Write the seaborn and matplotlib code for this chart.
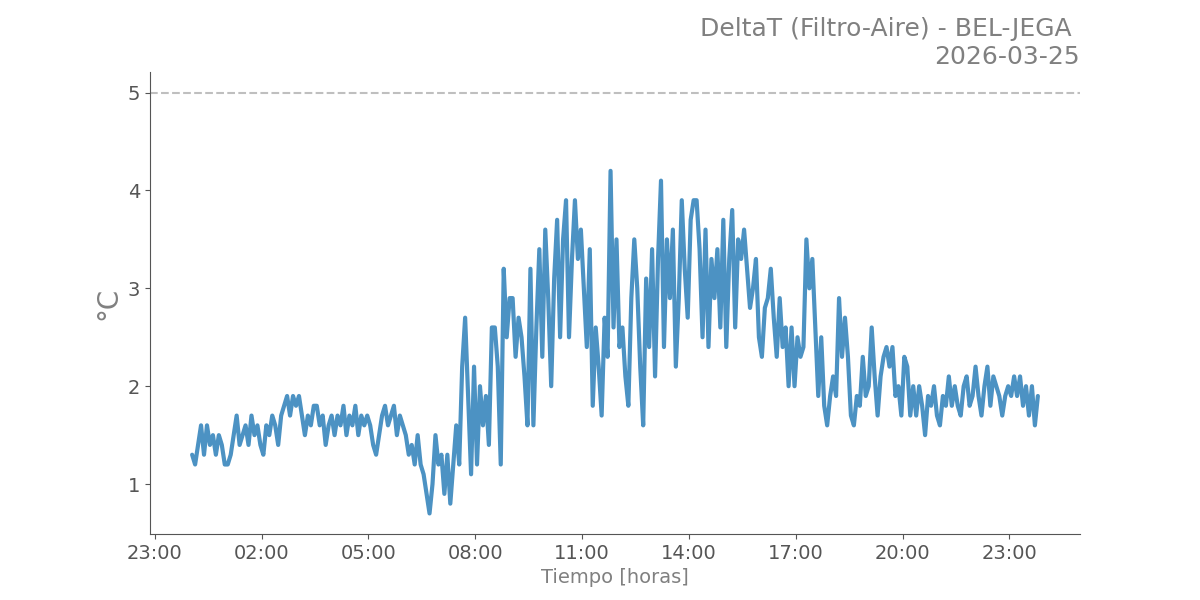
import pandas as pd
import seaborn as sns
import matplotlib.pyplot as plt
import matplotlib.dates as mdates

# Lecturas cada 5 minutos (00:03 a 23:48)
h00 = [1.3, 1.2, 1.4, 1.6, 1.3, 1.6, 1.4, 1.5, 1.3, 1.5, 1.4, 1.2]
h01 = [1.2, 1.3, 1.5, 1.7, 1.4, 1.5, 1.6, 1.4, 1.7, 1.5, 1.6, 1.4]
h02 = [1.3, 1.6, 1.5, 1.7, 1.6, 1.4, 1.7, 1.8, 1.9, 1.7, 1.9, 1.8]
h03 = [1.9, 1.7, 1.5, 1.7, 1.6, 1.8, 1.8, 1.6, 1.7, 1.4, 1.6, 1.7]
h04 = [1.5, 1.7, 1.6, 1.8, 1.5, 1.7, 1.6, 1.8, 1.5, 1.7, 1.6, 1.7]
h05 = [1.6, 1.4, 1.3, 1.5, 1.7, 1.8, 1.6, 1.7, 1.8, 1.5, 1.7, 1.6]
h06 = [1.5, 1.3, 1.4, 1.2, 1.5, 1.2, 1.1, 0.9, 0.7, 1.0, 1.5, 1.2]
h07 = [1.3, 0.9, 1.3, 0.8, 1.2, 1.6, 1.2, 2.2, 2.7, 1.9, 1.1, 2.2]
h08 = [1.2, 2.0, 1.6, 1.9, 1.4, 2.6, 2.6, 2.2, 1.2, 3.2, 2.5, 2.9]
h09 = [2.9, 2.3, 2.7, 2.5, 2.1, 1.6, 3.2, 1.6, 2.6, 3.4, 2.3, 3.6]
h10 = [2.9, 2.0, 3.1, 3.7, 2.5, 3.5, 3.9, 2.5, 3.3, 3.9, 3.3, 3.6]
h11 = [3.0, 2.4, 3.4, 1.8, 2.6, 2.2, 1.7, 2.7, 2.3, 4.2, 2.6, 3.5]
h12 = [2.4, 2.6, 2.1, 1.8, 2.9, 3.5, 3.0, 2.2, 1.6, 3.1, 2.4, 3.4]
h13 = [2.1, 3.3, 4.1, 2.4, 3.5, 2.9, 3.6, 2.2, 2.9, 3.9, 3.2, 2.7]
h14 = [3.7, 3.9, 3.9, 3.4, 2.5, 3.6, 2.4, 3.3, 2.9, 3.4, 2.6, 3.7]
h15 = [2.4, 3.3, 3.8, 2.6, 3.5, 3.3, 3.6, 3.2, 2.8, 3.0, 3.3, 2.5]
h16 = [2.3, 2.8, 2.9, 3.2, 2.7, 2.3, 2.9, 2.4, 2.6, 2.0, 2.6, 2.0]
h17 = [2.5, 2.3, 2.4, 3.5, 3.0, 3.3, 2.6, 1.9, 2.5, 1.8, 1.6, 1.9]
h18 = [2.1, 1.9, 2.9, 2.3, 2.7, 2.3, 1.7, 1.6, 1.9, 1.8, 2.3, 1.9]
h19 = [2.0, 2.6, 2.1, 1.7, 2.1, 2.3, 2.4, 2.2, 2.4, 1.9, 2.0, 1.7]
h20 = [2.3, 2.2, 1.7, 2.0, 1.7, 2.0, 1.8, 1.5, 1.9, 1.8, 2.0, 1.7]
h21 = [1.6, 1.9, 1.8, 2.1, 1.8, 2.0, 1.8, 1.7, 2.0, 2.1, 1.8, 1.9]
h22 = [2.2, 1.9, 1.7, 2.0, 2.2, 1.8, 2.1, 2.0, 1.9, 1.7, 1.9, 2.0]
h23 = [1.9, 2.1, 1.9, 2.1, 1.8, 2.0, 1.7, 2.0, 1.6, 1.9]

delta_t = (h00 + h01 + h02 + h03 + h04 + h05 + h06 + h07 + h08 + h09 + h10 + h11
           + h12 + h13 + h14 + h15 + h16 + h17 + h18 + h19 + h20 + h21 + h22 + h23)
tiempo = pd.date_range("2026-03-25 00:03", periods=len(delta_t), freq="5min")
df = pd.DataFrame({"tiempo": tiempo, "deltaT": delta_t})

limite = 5
titulo = "DeltaT (Filtro-Aire) - BEL-JEGA \n2026-03-25"

sns.set_style("ticks")
plt.rcParams["font.family"] = ["DejaVu Sans"]

fig, ax = plt.subplots(figsize=(12, 6), dpi=100)
sns.lineplot(data=df, x="tiempo", y="deltaT", ax=ax, color="tab:blue", alpha=0.8, linewidth=3)
ax.axhline(limite, color="gray", alpha=0.5, linestyle="--", linewidth=1.5)

ax.set_ylim(0.49, 5.21)
ax.set_xlim(pd.Timestamp("2026-03-24 22:52"), pd.Timestamp("2026-03-26 00:59"))
ax.xaxis.set_major_locator(mdates.HourLocator(byhour=[2, 5, 8, 11, 14, 17, 20, 23]))
ax.xaxis.set_major_formatter(mdates.DateFormatter("%H:%M"))

ax.set_title(titulo, loc="right", fontsize=18, color="gray")
ax.set_xlabel("Tiempo [horas]", fontsize=14, color="gray")
ax.set_ylabel("°C", fontsize=20, color="gray")
ax.tick_params(labelsize=14, colors="#555555")
for lado in ["left", "bottom"]:
    ax.spines[lado].set_color("#555555")
sns.despine(ax=ax)

plt.savefig("out.png")
